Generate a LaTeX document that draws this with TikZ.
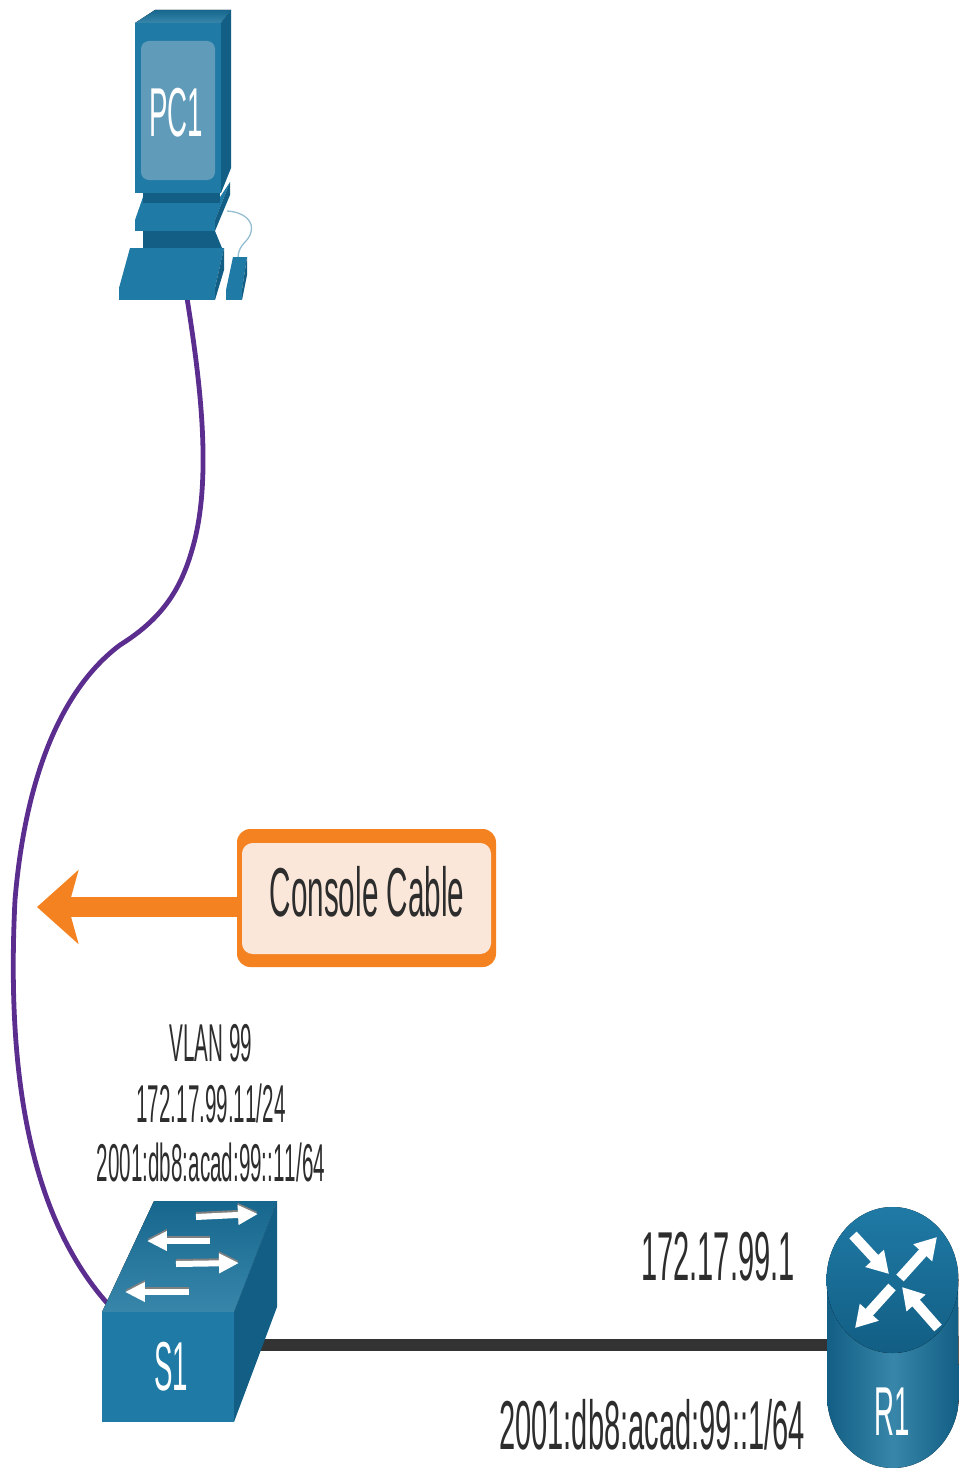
\documentclass[tikz,border=0pt]{standalone}
\usepackage{fontspec}
\setmainfont[Kerning=Off]{Liberation Sans}
\usepackage{xcolor}
\usetikzlibrary{positioning, arrows.meta}
\definecolor{ciscoA}{RGB}{ 31,122,165}
\definecolor{ciscoB}{RGB}{ 18, 94,132}
\definecolor{ciscoC}{RGB}{ 56,134,170}
\definecolor{ciscoD}{RGB}{ 96,155,186}
\definecolor{cordC}{RGB}{150,190,210}
\definecolor{cableC}{RGB}{ 91, 45,142}
\definecolor{linkC}{RGB}{ 51, 51, 51}
\definecolor{noteC}{RGB}{245,130, 32}
\definecolor{noteF}{RGB}{250,231,217}
\definecolor{textC}{RGB}{ 45, 45, 45}

\begin{document}
\begin{tikzpicture}[
    x=0.0264cm, y=-0.0264cm,
    front/.style={fill=ciscoA},
    side/.style={fill=ciscoB},
    topface/.style={top color=ciscoB!70!ciscoA, bottom color=ciscoC},
    smalltxt/.style={font=\fontsize{40}{44}\selectfont, text=textC, inner sep=0pt, xscale=0.387},
    bigtxt/.style={font=\fontsize{52}{56}\selectfont, text=textC, inner sep=0pt, xscale=0.42},
    devtxt/.style={font=\fontsize{52}{56}\selectfont, text=white, inner sep=0pt, xscale=0.40},
    swarrow/.style={white, line width=4.5pt, -{Triangle[length=15pt,width=14pt]}},
    swshade/.style={gray, line width=4.5pt, -{Triangle[length=15pt,width=14pt]}},
    rtarrow/.style={white, line width=7.5pt, -{Triangle[length=16pt,width=18pt]}}
  ]
  \useasboundingbox (0,0) rectangle (958,1468);

  \coordinate (pcport) at (187,298);
  \coordinate (swport) at (107,1303);
  \coordinate (swlink) at (250,1345);
  \coordinate (rtlink) at (840,1345);
  \coordinate (arrowtip) at (37,907);

  % cables
  \draw[cableC, line width=3.6pt] (pcport) .. controls (200,380) and (213,480) .. (192,550)
    .. controls (180,592) and (160,620) .. (120,645)
    .. controls (60,690) and (25,780) .. (15,900)
    .. controls (7,1060) and (25,1210) .. (swport);
  \draw[linkC, line width=9.5pt] (swlink) -- (rtlink);

  % PC1
  \draw[cordC, line width=1pt] (227,211) .. controls (245,212) and (254,222) .. (251,232)
    .. controls (249,242) and (238,244) .. (238,258);
  \fill[front] (143,197) -- (135,220) -- (215,220) -- (230,182) -- (220,197) -- cycle;
  \fill[front] (135,220) rectangle (215,231);
  \fill[side] (215,220) -- (230,182) -- (230,195) -- (215,231) -- cycle;
  \fill[side] (143,193) rectangle (220,203);
  \fill[side] (143,231) -- (215,231) -- (222,248) -- (143,248) -- cycle;
  \fill[ciscoA] (130,248) -- (224,248) -- (215,288) -- (119,288) -- cycle;
  \fill[ciscoA] (119,288) rectangle (215,300);
  \fill[side] (224,248) -- (224,270) -- (215,300) -- (215,288) -- cycle;
  \fill[ciscoA] (233,257) -- (247,257) -- (242,290) -- (226,290) -- cycle;
  \fill[ciscoA] (226,290) rectangle (242,300);
  \fill[side] (247,257) -- (247,275) -- (242,300) -- (242,290) -- cycle;
  \fill[topface] (135,23) -- (155,10) -- (231,10) -- (221,23) -- cycle;
  \fill[front] (135,23) rectangle (221,193);
  \fill[side] (221,23) -- (231,10) -- (231,168) -- (221,193) -- cycle;
  \fill[ciscoD, rounded corners=6pt] (141,41) rectangle (215,180);
  \node[devtxt] (PC1) at (176,113) {PC1};

  % S1
  \fill[topface] (102,1312) -- (154,1201) -- (277,1201) -- (234,1312) -- cycle;
  \fill[front] (102,1312) rectangle (234,1422);
  \fill[side] (234,1312) -- (277,1201) -- (277,1307) -- (234,1422) -- cycle;
  \foreach \xa/\ya/\xb/\yb in {196/1217/258/1214, 210/1241/147/1241, 176/1264/239/1263, 189/1292/125/1292} {
    \draw[swshade] (\xa,\ya-2) -- (\xb,\yb-2);
    \draw[swarrow] (\xa,\ya) -- (\xb,\yb);
  }
  \node[devtxt] (S1) at (171,1367) {S1};

  % R1
  \fill[left color=ciscoB, right color=ciscoB, middle color=ciscoC]
    (827,1280) -- (827,1395) arc[start angle=180, end angle=360, x radius=66, y radius=-73]
    -- (958,1280) -- cycle;
  \fill[top color=ciscoA, bottom color=ciscoB] (892.5,1280) ellipse [x radius=66, y radius=73];
  \foreach \xa/\ya/\xb/\yb in {853/1235/889/1274, 900/1278/937/1237, 892/1287/855/1328, 938/1328/902/1287} {
    \draw[rtarrow] (\xa,\ya) -- (\xb,\yb);
  }
  \node[devtxt] (R1) at (892,1412) {R1};

  % labels
  \node[smalltxt] (vlan) at (211,1043) {VLAN 99};
  \node[smalltxt] (swip) at (211,1103) {172.17.99.11/24};
  \node[smalltxt] (swv6) at (211,1162) {2001:db8:acad:99::11/64};
  \node[bigtxt] (rtip) at (718,1257) {172.17.99.1};
  \node[bigtxt] (rtv6) at (652,1425) {2001:db8:acad:99::1/64};

  % callout
  \fill[noteC, rounded corners=10pt] (237,829) rectangle (496,967);
  \fill[noteF, rounded corners=8pt] (242,843) rectangle (491,954);
  \node[bigtxt, xscale=1.02] (note) at (367,892) {Console Cable};
  \coordinate (notew) at (240,907);
  \draw[noteC, line width=15pt, -{Stealth[length=31pt,width=55pt,inset=7.5pt]}] (notew) -- (arrowtip);
\end{tikzpicture}
\end{document}
